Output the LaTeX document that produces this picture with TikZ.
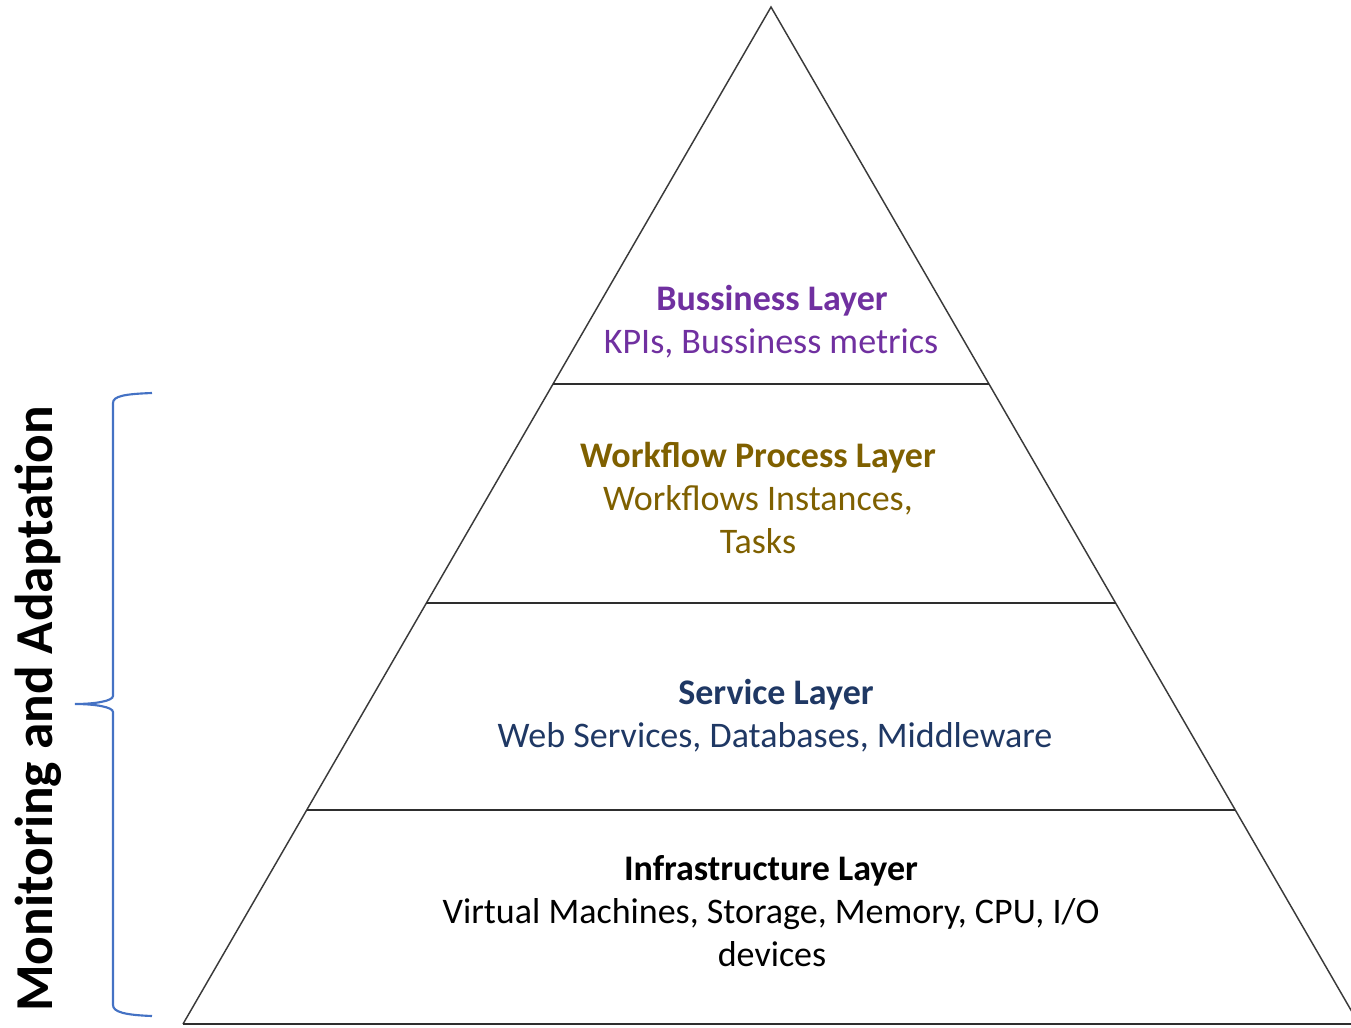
\documentclass[tikz,border=0pt]{standalone}
\usepackage{fontspec}
\setmainfont{Carlito}
\definecolor{bizcol}{HTML}{7030A0}
\definecolor{wfcol}{HTML}{7F6000}
\definecolor{svcol}{HTML}{1F3864}
\definecolor{bracecol}{HTML}{4472C4}
\definecolor{edgecol}{HTML}{3A3A3A}
\tikzset{
  edgeline/.style={draw=edgecol, line width=1.1pt},
  divline/.style={draw=edgecol!80!black, line width=1.9pt},
  ttl/.style={anchor=base, inner sep=0pt, font=\fontsize{27}{32}\selectfont\bfseries},
  sub/.style={anchor=base, inner sep=0pt, font=\fontsize{27}{32}\selectfont},
  bracestyle/.style={draw=bracecol, line width=1.6pt},
}
\begin{document}
\begin{tikzpicture}[x=0.75pt,y=-0.75pt]
\useasboundingbox (0,0) rectangle (1351,1027);
\clip (0,0) rectangle (1351,1027);
\coordinate (apex) at (771,7);
\coordinate (bl) at (183,1024);
\coordinate (br) at (1359,1024);
\coordinate (l1) at (553.0,384);
\coordinate (r1) at (989.0,384);
\coordinate (l2) at (426.4,603);
\coordinate (r2) at (1115.6,603);
\coordinate (l3) at (306.7,810);
\coordinate (r3) at (1235.3,810);
\path[edgeline] (bl) -- (apex) -- (br);
\path[divline] (bl) -- (br);
\path[divline] (l1) -- (r1);
\path[divline] (l2) -- (r2);
\path[divline] (l3) -- (r3);

\node[ttl, text=bizcol] (bizT) at (772,310) {Bussiness Layer};
\node[sub, text=bizcol] (bizS) at (771,353) {KPIs, Bussiness metrics};

\node[ttl, text=wfcol] (wfT) at (758,467) {Workflow Process Layer};
\node[sub, text=wfcol] (wfS1) at (758,510) {Workflows Instances,};
\node[sub, text=wfcol] (wfS2) at (758,553) {Tasks};

\node[ttl, text=svcol] (svT) at (776,704) {Service Layer};
\node[sub, text=svcol] (svS) at (775,747) {Web Services, Databases, Middleware};

\node[ttl, text=black] (inT) at (771,880) {Infrastructure Layer};
\node[sub, text=black] (inS1) at (771,923) {Virtual Machines, Storage, Memory, CPU, I/O};
\node[sub, text=black] (inS2) at (772,966) {devices};

\node[anchor=base, rotate=90, inner sep=0pt, font=\fontsize{40}{46}\selectfont\bfseries] (mon) at (52,709) {Monitoring and Adaptation};

\path[bracestyle] (152,393) .. controls (125,394) and (113,396) .. (113,403)
  -- (113,696) .. controls (113,701) and (95,704) .. (75,704)
  .. controls (95,704) and (113,707) .. (113,712)
  -- (113,1005) .. controls (113,1012) and (125,1015) .. (152,1016);
\end{tikzpicture}
\end{document}
